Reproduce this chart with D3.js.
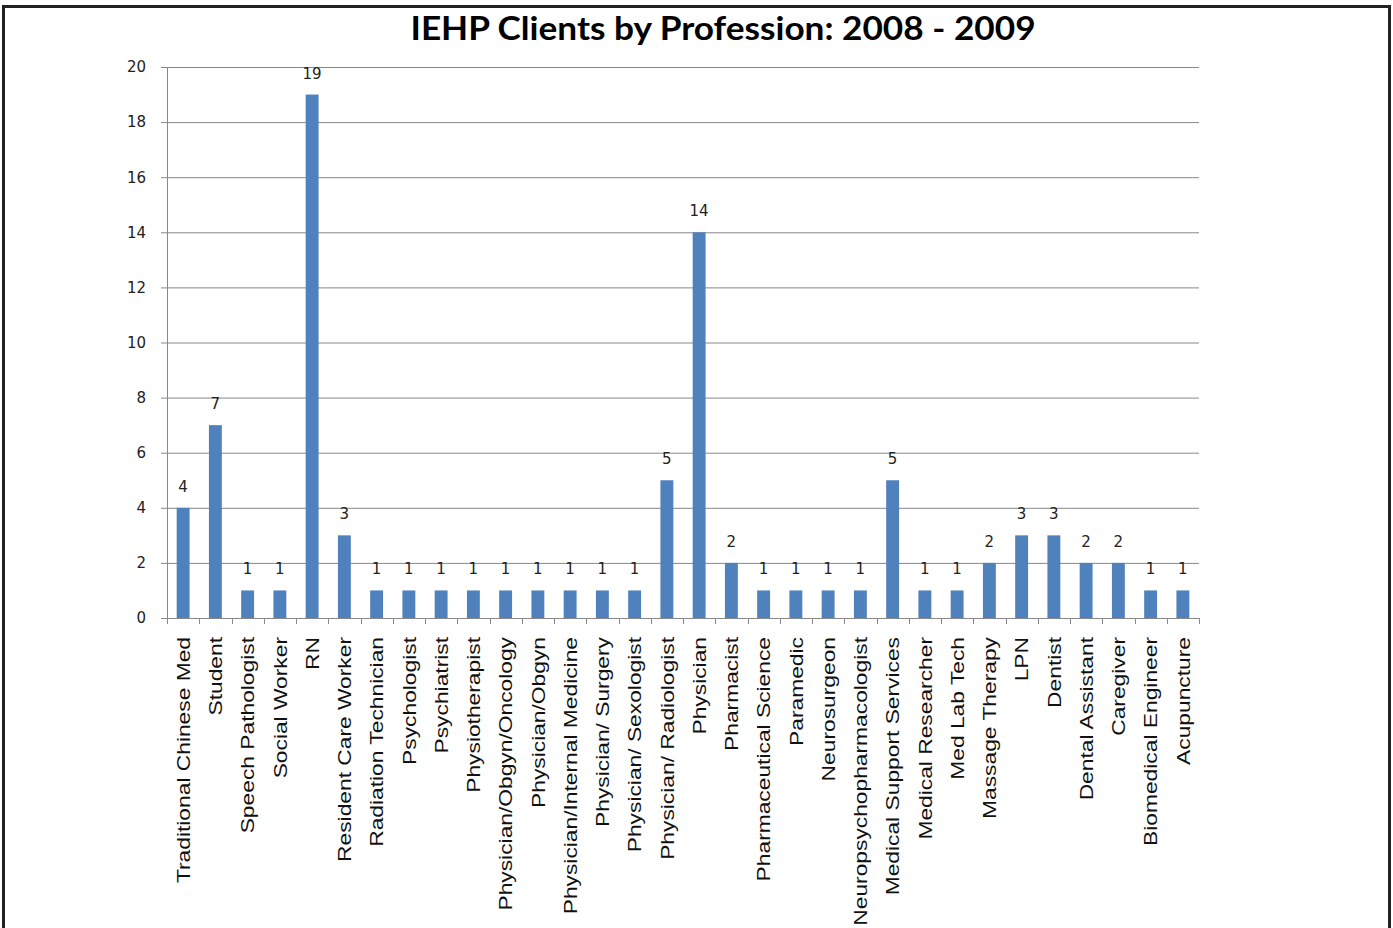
<!DOCTYPE html>
<html>
<head>
<meta charset="utf-8">
<script src="https://cdn.jsdelivr.net/npm/d3@7"></script>
<style>
  html, body { margin: 0; padding: 0; background: #fff; }
  svg { display: block; }
</style>
</head>
<body>
<div id="chart"></div>
<script>
// data
const professions = [
  'Traditional Chinese Med', 'Student', 'Speech Pathologist', 'Social Worker', 'RN',
  'Resident Care Worker', 'Radiation Technician', 'Psychologist', 'Psychiatrist',
  'Physiotherapist', 'Physician/Obgyn/Oncology', 'Physician/Obgyn',
  'Physician/Internal Medicine', 'Physician/ Surgery', 'Physician/ Sexologist',
  'Physician/ Radiologist', 'Physician', 'Pharmacist', 'Pharmaceutical Science',
  'Paramedic', 'Neurosurgeon', 'Neuropsychopharmacologist', 'Medical Support Services',
  'Medical Researcher', 'Med Lab Tech', 'Massage Therapy', 'LPN', 'Dentist',
  'Dental Assistant', 'Caregiver', 'Biomedical Engineer', 'Acupuncture'
];
const clients = [4, 7, 1, 1, 19, 3, 1, 1, 1, 1, 1, 1, 1, 1, 1, 5, 14, 2, 1, 1, 1, 1, 5, 1, 1, 2, 3, 3, 2, 2, 1, 1];
const yTicks = [0, 2, 4, 6, 8, 10, 12, 14, 16, 18, 20];
const chartTitle = 'IEHP Clients by Profession: 2008 - 2009';

const W = 1393, H = 928;
const margin = {left: 167, right: 194, top: 67, bottom: 310};

const svg = d3.select('#chart').append('svg')
    .attr('width', W)
    .attr('height', H);

// outer frame (bottom edge is cut off in the reference)
svg.append('path')
    .attr('d', `M3.5,${H} V6.5 H1389.5 V${H}`)
    .attr('fill', 'none')
    .attr('stroke', '#222')
    .attr('stroke-width', 3);

const x = d3.scaleBand()
    .domain(professions)
    .range([margin.left, W - margin.right])
    .paddingInner(0.6)
    .paddingOuter(0.3);

const y = d3.scaleLinear()
    .domain([0, 20])
    .range([H - margin.bottom, margin.top]);

// gridlines + y axis
const yAxis = svg.append('g')
    .attr('transform', `translate(${margin.left},0)`)
    .call(d3.axisLeft(y)
        .tickValues(yTicks)
        .tickSize(-(W - margin.right - margin.left))
        .tickPadding(21)
        .tickFormat(d3.format('d')));
yAxis.select('.domain').remove();
yAxis.selectAll('.tick line')
    .attr('x1', -6)
    .attr('stroke', '#888')
    .attr('stroke-width', 1);
yAxis.selectAll('.tick text')
    .attr('font-family', 'DejaVu Sans, Verdana, sans-serif')
    .attr('font-size', 15)
    .attr('fill', '#222');

// y axis line
svg.append('line')
    .attr('x1', margin.left + 0.5).attr('x2', margin.left + 0.5)
    .attr('y1', y(20)).attr('y2', y(0))
    .attr('stroke', '#888');

// bars
svg.append('g')
    .selectAll('rect')
    .data(clients)
    .enter().append('rect')
    .attr('x', (d, i) => x(professions[i]))
    .attr('y', d => y(d))
    .attr('width', x.bandwidth())
    .attr('height', d => y(0) - y(d))
    .attr('fill', '#4F81BD');

// value labels
svg.append('g')
    .selectAll('text')
    .data(clients)
    .enter().append('text')
    .attr('x', (d, i) => x(professions[i]) + x.bandwidth() / 2)
    .attr('y', d => y(d) - 16)
    .attr('text-anchor', 'middle')
    .attr('font-family', 'DejaVu Sans, Verdana, sans-serif')
    .attr('font-size', 15)
    .attr('fill', '#222')
    .text(d => d);

// x axis with category boundary ticks
const step = x.step();
const xAxis = svg.append('g')
    .attr('transform', `translate(0,${y(0)})`);
xAxis.append('line')
    .attr('x1', margin.left).attr('x2', W - margin.right)
    .attr('y1', 0.5).attr('y2', 0.5)
    .attr('stroke', '#888');
xAxis.selectAll('line.tick')
    .data(d3.range(professions.length + 1))
    .enter().append('line')
    .attr('class', 'tick')
    .attr('x1', i => Math.round(margin.left + i * step) + 0.5)
    .attr('x2', i => Math.round(margin.left + i * step) + 0.5)
    .attr('y1', 0).attr('y2', 6)
    .attr('stroke', '#888');

// category labels: the reference text is stretched along its run
xAxis.selectAll('text')
    .data(professions)
    .enter().append('text')
    .attr('transform', d => `translate(${x(d) + x.bandwidth() / 2},19) rotate(-90) scale(1.2,1)`)
    .attr('dy', '0.35em')
    .attr('text-anchor', 'end')
    .attr('font-family', 'Liberation Sans, Arial, sans-serif')
    .attr('font-size', 19)
    .attr('fill', '#111')
    .text(d => d);

// title
svg.append('text')
    .attr('transform', 'translate(723,40) scale(1.1,1)')
    .attr('text-anchor', 'middle')
    .attr('font-family', 'Lato, Open Sans, sans-serif')
    .attr('font-weight', 'bold')
    .attr('font-size', 32)
    .attr('fill', '#000')
    .text(chartTitle);
</script>
</body>
</html>
